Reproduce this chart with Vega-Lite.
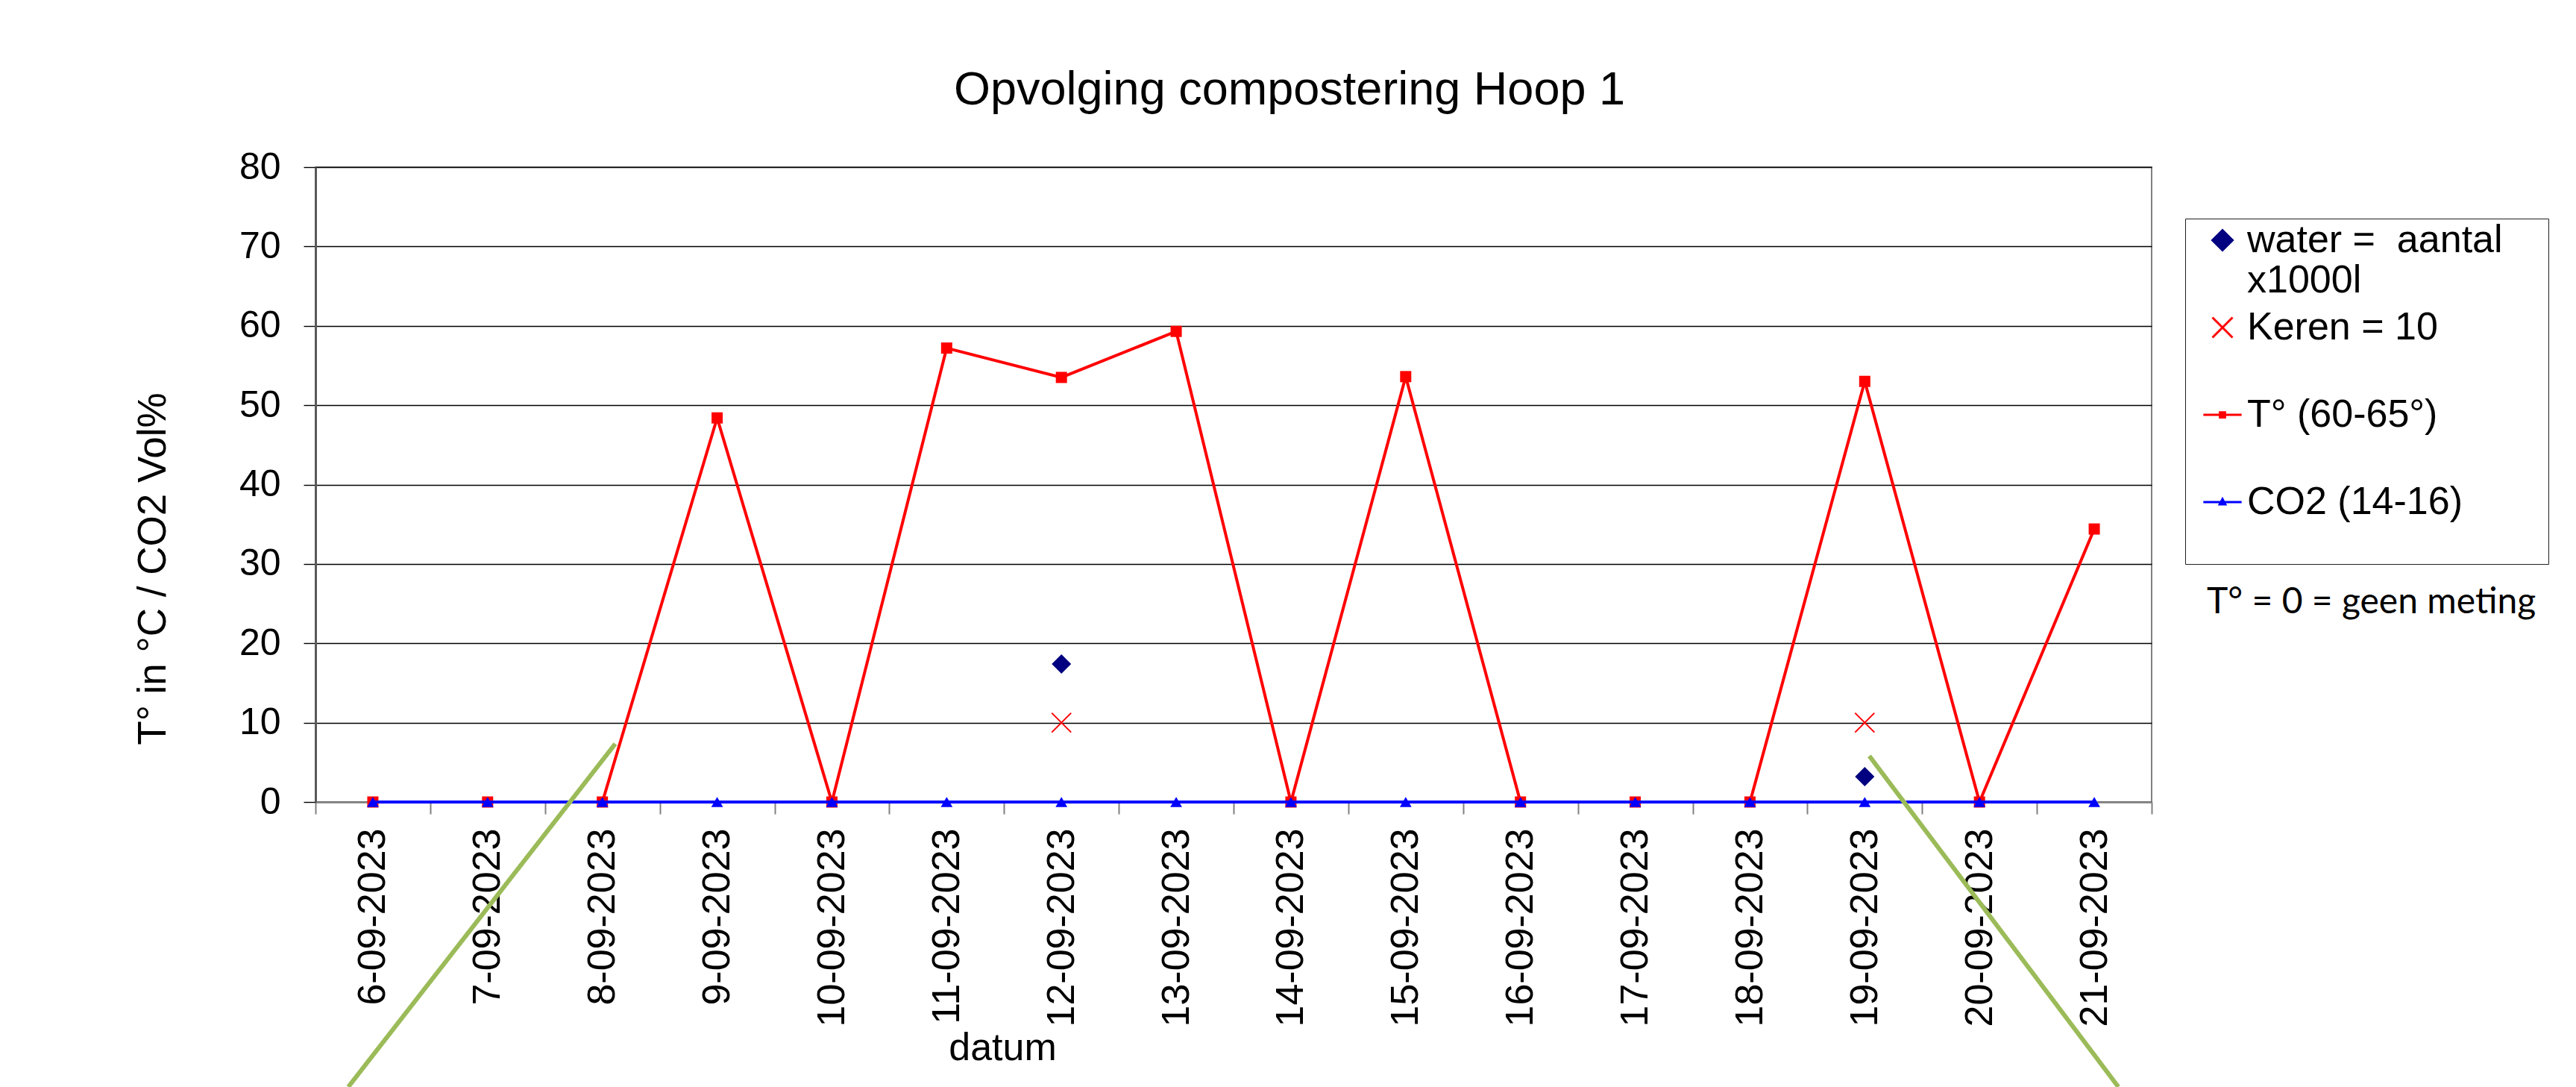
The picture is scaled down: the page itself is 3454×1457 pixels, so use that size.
{
  "$schema": "https://vega.github.io/schema/vega-lite/v6.json",
  "width": 2462,
  "height": 851,
  "autosize": {"type": "none"},
  "padding": {"left": 423, "top": 224, "right": 569, "bottom": 382},
  "background": "white",
  "title": {
    "text": "Opvolging compostering Hoop 1",
    "anchor": "middle",
    "frame": "group",
    "dx": 75,
    "offset": -4,
    "baseline": "alphabetic",
    "font": "Liberation Sans",
    "fontSize": 63,
    "fontWeight": "normal",
    "color": "#000000"
  },
  "datasets": {
    "series": [
      {"datum": "6-09-2023", "serie": "T° (60-65°)", "value": 0},
      {"datum": "7-09-2023", "serie": "T° (60-65°)", "value": 0},
      {"datum": "8-09-2023", "serie": "T° (60-65°)", "value": 0},
      {"datum": "9-09-2023", "serie": "T° (60-65°)", "value": 48.4},
      {"datum": "10-09-2023", "serie": "T° (60-65°)", "value": 0},
      {"datum": "11-09-2023", "serie": "T° (60-65°)", "value": 57.2},
      {"datum": "12-09-2023", "serie": "T° (60-65°)", "value": 53.5},
      {"datum": "13-09-2023", "serie": "T° (60-65°)", "value": 59.3},
      {"datum": "14-09-2023", "serie": "T° (60-65°)", "value": 0},
      {"datum": "15-09-2023", "serie": "T° (60-65°)", "value": 53.6},
      {"datum": "16-09-2023", "serie": "T° (60-65°)", "value": 0},
      {"datum": "17-09-2023", "serie": "T° (60-65°)", "value": 0},
      {"datum": "18-09-2023", "serie": "T° (60-65°)", "value": 0},
      {"datum": "19-09-2023", "serie": "T° (60-65°)", "value": 53.0},
      {"datum": "20-09-2023", "serie": "T° (60-65°)", "value": 0},
      {"datum": "21-09-2023", "serie": "T° (60-65°)", "value": 34.4},
      {"datum": "6-09-2023", "serie": "CO2 (14-16)", "value": 0},
      {"datum": "7-09-2023", "serie": "CO2 (14-16)", "value": 0},
      {"datum": "8-09-2023", "serie": "CO2 (14-16)", "value": 0},
      {"datum": "9-09-2023", "serie": "CO2 (14-16)", "value": 0},
      {"datum": "10-09-2023", "serie": "CO2 (14-16)", "value": 0},
      {"datum": "11-09-2023", "serie": "CO2 (14-16)", "value": 0},
      {"datum": "12-09-2023", "serie": "CO2 (14-16)", "value": 0},
      {"datum": "13-09-2023", "serie": "CO2 (14-16)", "value": 0},
      {"datum": "14-09-2023", "serie": "CO2 (14-16)", "value": 0},
      {"datum": "15-09-2023", "serie": "CO2 (14-16)", "value": 0},
      {"datum": "16-09-2023", "serie": "CO2 (14-16)", "value": 0},
      {"datum": "17-09-2023", "serie": "CO2 (14-16)", "value": 0},
      {"datum": "18-09-2023", "serie": "CO2 (14-16)", "value": 0},
      {"datum": "19-09-2023", "serie": "CO2 (14-16)", "value": 0},
      {"datum": "20-09-2023", "serie": "CO2 (14-16)", "value": 0},
      {"datum": "21-09-2023", "serie": "CO2 (14-16)", "value": 0},
      {"datum": "12-09-2023", "serie": "water =  aantal x1000l", "value": 17.4},
      {"datum": "19-09-2023", "serie": "water =  aantal x1000l", "value": 3.2},
      {"datum": "12-09-2023", "serie": "Keren = 10", "value": 10},
      {"datum": "19-09-2023", "serie": "Keren = 10", "value": 10}
    ],
    "annot": [
      {"seg": "a", "pos": 0.286, "value": -35.9, "note": "T° = 0 = geen meting"},
      {"seg": "a", "pos": 2.612, "value": 7.33, "note": "T° = 0 = geen meting"},
      {"seg": "b", "pos": 13.54, "value": 5.8, "note": "T° = 0 = geen meting"},
      {"seg": "b", "pos": 15.71, "value": -35.9, "note": "T° = 0 = geen meting"}
    ]
  },
  "config": {
    "font": "Liberation Sans",
    "view": {"stroke": "#808080", "strokeWidth": 2},
    "axisX": {
      "titleX": 921,
      "titleY": 345,
      "titleAlign": "center",
      "titleBaseline": "alphabetic",
      "titleFontSize": 52,
      "titleFontWeight": "normal",
      "titleColor": "#000000",
      "labelAngle": 270,
      "labelAlign": "right",
      "labelBaseline": "middle",
      "labelFontSize": 52,
      "labelColor": "#000000",
      "labelPadding": 19,
      "labelOverlap": false,
      "labelLimit": 0,
      "tickBand": "extent",
      "tickSize": 16,
      "tickColor": "#808080",
      "tickWidth": 2,
      "domainColor": "#808080",
      "domainWidth": 2,
      "grid": false
    },
    "axisY": {
      "tickCount": 8,
      "titleAngle": 270,
      "titleX": -202,
      "titleY": 538,
      "titleAlign": "center",
      "titleBaseline": "alphabetic",
      "titleFontSize": 53,
      "titleFontWeight": "normal",
      "titleColor": "#000000",
      "labelFontSize": 50,
      "labelColor": "#000000",
      "labelPadding": 31,
      "tickSize": 16,
      "tickColor": "#000000",
      "tickWidth": 1.4,
      "gridColor": "#000000",
      "gridWidth": 1.4,
      "gridOpacity": 1,
      "domainColor": "#595959",
      "domainWidth": 3
    }
  },
  "resolve": {"scale": {"x": "independent"}},
  "layer": [
    {
      "data": {"name": "series"},
      "encoding": {
        "x": {
          "field": "datum",
          "type": "ordinal",
          "title": "datum",
          "sort": null,
          "scale": {
            "type": "band",
            "paddingInner": 0,
            "paddingOuter": 0,
            "domain": ["6-09-2023", "7-09-2023", "8-09-2023", "9-09-2023", "10-09-2023", "11-09-2023", "12-09-2023", "13-09-2023", "14-09-2023", "15-09-2023", "16-09-2023", "17-09-2023", "18-09-2023", "19-09-2023", "20-09-2023", "21-09-2023"]
          }
        },
        "y": {
          "field": "value",
          "type": "quantitative",
          "title": "T° in °C / CO2 Vol%",
          "scale": {"domain": [0, 80], "nice": false}
        }
      },
      "layer": [
        {
          "transform": [{"filter": "datum.serie == 'water =  aantal x1000l'"}],
          "mark": {"type": "point", "shape": "diamond", "size": 676, "filled": true, "color": "#000080", "opacity": 1}
        },
        {
          "transform": [{"filter": "datum.serie == 'Keren = 10'"}],
          "mark": {"type": "point", "shape": "M-1,-1L1,1M-1,1L1,-1", "size": 676, "filled": false, "color": "#FF0000", "strokeWidth": 2, "opacity": 1}
        },
        {
          "transform": [{"filter": "datum.serie == 'T° (60-65°)'"}],
          "mark": {
            "type": "line",
            "color": "#FF0000",
            "strokeWidth": 4,
            "point": {"shape": "square", "size": 225, "filled": true, "color": "#FF0000", "opacity": 1}
          }
        },
        {
          "transform": [{"filter": "datum.serie == 'CO2 (14-16)'"}],
          "mark": {
            "type": "line",
            "color": "#0000FF",
            "strokeWidth": 4,
            "point": {"shape": "triangle-up", "size": 250, "filled": true, "color": "#0000FF", "opacity": 1}
          }
        },
        {
          "transform": [{"filter": "false"}],
          "mark": {"type": "point", "size": 729, "strokeWidth": 3, "filled": true, "opacity": 1},
          "encoding": {
            "fill": {
              "field": "serie",
              "type": "nominal",
              "scale": {
                "domain": ["water =  aantal x1000l", "Keren = 10", "T° (60-65°)", "CO2 (14-16)"],
                "range": ["#000080", "#FF0000", "#FF0000", "#0000FF"]
              },
              "legend": {
                "title": null, "orient": "none", "legendX": 2507, "legendY": 69, "direction": "vertical",
                "padding": 3, "rowPadding": 11, "labelFont": "Liberation Sans", "labelFontSize": 52,
                "labelColor": "#000000", "labelLimit": 1000, "labelOffset": 7, "symbolOffset": 21,
                "strokeColor": "#202020", "symbolSize": 729, "symbolStrokeWidth": 3,
                "labelExpr": "datum.label == 'water =  aantal x1000l' ? ['water =\u00a0 aantal\u00a0\u00a0\u00a0\u00a0\u200b', 'x1000l'] : [datum.label, '']"
              }
            },
            "stroke": {
              "field": "serie",
              "type": "nominal",
              "scale": {
                "domain": ["water =  aantal x1000l", "Keren = 10", "T° (60-65°)", "CO2 (14-16)"],
                "range": ["#000080", "#FF0000", "#FF0000", "#0000FF"]
              },
              "legend": {
                "title": null, "orient": "none", "legendX": 2507, "legendY": 69, "direction": "vertical",
                "padding": 3, "rowPadding": 11, "labelFont": "Liberation Sans", "labelFontSize": 52,
                "labelColor": "#000000", "labelLimit": 1000, "labelOffset": 7, "symbolOffset": 21,
                "strokeColor": "#202020", "symbolSize": 729, "symbolStrokeWidth": 3,
                "labelExpr": "datum.label == 'water =  aantal x1000l' ? ['water =\u00a0 aantal\u00a0\u00a0\u00a0\u00a0\u200b', 'x1000l'] : [datum.label, '']"
              }
            },
            "shape": {
              "field": "serie",
              "type": "nominal",
              "scale": {
                "domain": ["water =  aantal x1000l", "Keren = 10", "T° (60-65°)", "CO2 (14-16)"],
                "range": ["diamond", "M-1,-1L1,1M-1,1L1,-1", "M-1.9,0L1.9,0M-0.25,-0.25L0.25,-0.25L0.25,0.25L-0.25,0.25Z", "M-1.9,0L1.9,0M0,-0.3L0.28,0.22L-0.28,0.22Z"]
              },
              "legend": {
                "title": null, "orient": "none", "legendX": 2507, "legendY": 69, "direction": "vertical",
                "padding": 3, "rowPadding": 11, "labelFont": "Liberation Sans", "labelFontSize": 52,
                "labelColor": "#000000", "labelLimit": 1000, "labelOffset": 7, "symbolOffset": 21,
                "strokeColor": "#202020", "symbolSize": 729, "symbolStrokeWidth": 3,
                "labelExpr": "datum.label == 'water =  aantal x1000l' ? ['water =\u00a0 aantal\u00a0\u00a0\u00a0\u00a0\u200b', 'x1000l'] : [datum.label, '']"
              }
            }
          }
        }
      ]
    },
    {
      "data": {"name": "annot"},
      "mark": {"type": "line", "color": "#9BBB59", "strokeWidth": 6, "clip": false},
      "encoding": {
        "x": {"field": "pos", "type": "quantitative", "scale": {"domain": [0, 16], "nice": false, "zero": false}, "axis": null},
        "y": {"field": "value", "type": "quantitative", "title": "T° in °C / CO2 Vol%", "scale": {"domain": [0, 80], "nice": false}},
        "detail": {"field": "seg"},
        "strokeDash": {
          "field": "note",
          "type": "nominal",
          "scale": {"range": [[1, 0]]},
          "legend": {
            "title": null, "orient": "none", "legendX": 2488, "legendY": 560, "padding": 0,
            "symbolSize": 0, "symbolOpacity": 0, "symbolStrokeWidth": 0, "labelOffset": 0,
            "labelFont": "Lato", "labelFontSize": 48, "labelColor": "#000000", "labelLimit": 1000
          }
        }
      }
    }
  ]
}
